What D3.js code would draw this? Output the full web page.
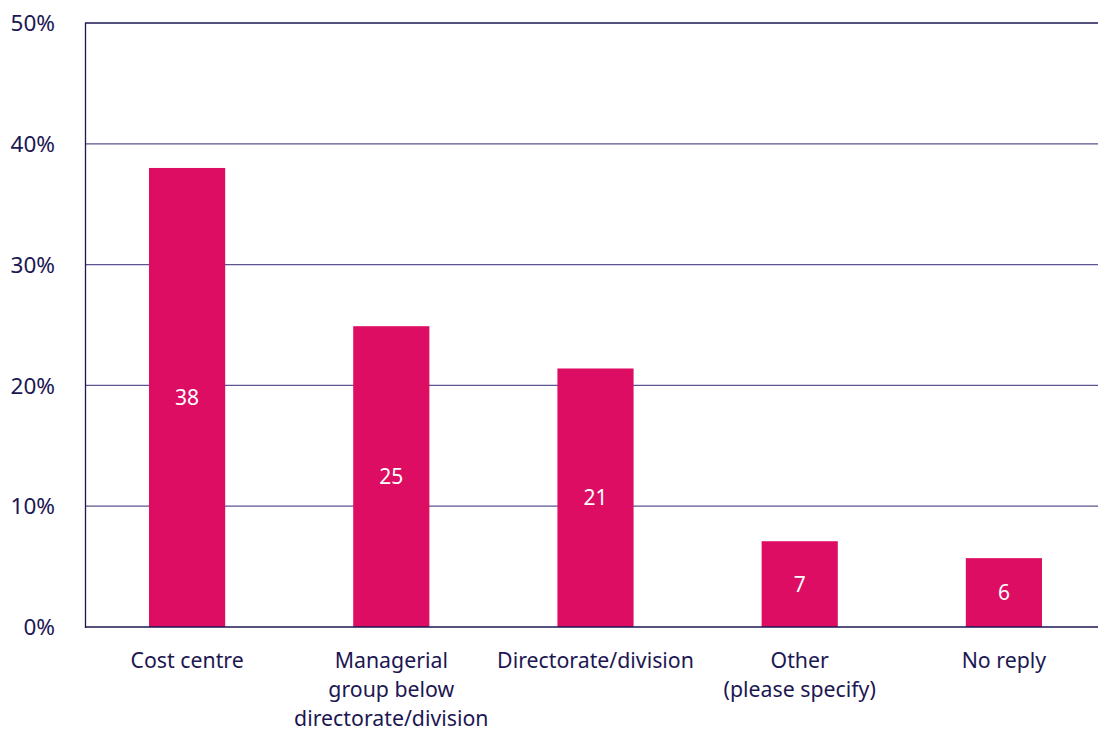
<!DOCTYPE html>
<html><head><meta charset="utf-8">
<script src="https://cdn.jsdelivr.net/npm/d3@7"></script>
<style>body{margin:0;background:#fff}svg{display:block}text{font-family:"Noto Sans",sans-serif}</style>
</head><body>
<svg id="c" width="1098" height="731"></svg>
<script>
const categories = [["Cost centre"],["Managerial","group below","directorate/division"],["Directorate/division"],["Other","(please specify)"],["No reply"]];
const values = [38, 24.9, 21.4, 7.1, 5.7];
const labels = ["38","25","21","7","6"];
const yTicks = [0,10,20,30,40,50];

const svg = d3.select("#c");
const navy = "#1c1752", grid = "#5a5492", barColor = "#dc0d62";
const x = d3.scaleBand().domain(d3.range(values.length)).range([85, 1106]).paddingInner(0.627).paddingOuter(0.3135);
const y = d3.scaleLinear().domain([0,50]).range([627, 23]);

// gridlines
svg.append("g").selectAll("line").data(yTicks.filter(t=>t>0)).join("line")
  .attr("x1",85).attr("x2",1098).attr("y1",d=>y(d)).attr("y2",d=>y(d))
  .attr("stroke",d=>d===50?navy:grid).attr("stroke-width",1.3);

// tick labels
svg.append("g").selectAll("text").data(yTicks).join("text")
  .attr("x",55).attr("y",d=>y(d)).attr("dy","0.36em").attr("text-anchor","end")
  .attr("fill",navy).attr("font-size",22.5).text(d=>d+"%");

// bars
svg.append("g").selectAll("rect").data(values).join("rect")
  .attr("x",(d,i)=>x(i)).attr("width",x.bandwidth())
  .attr("y",d=>y(d)).attr("height",d=>y(0)-y(d)).attr("fill",barColor);

// bar labels
svg.append("g").selectAll("text").data(values).join("text")
  .attr("x",(d,i)=>x(i)+x.bandwidth()/2).attr("y",d=>(y(d)+y(0))/2).attr("dy","0.36em")
  .attr("text-anchor","middle").attr("fill","#fff").attr("font-size",21).text((d,i)=>labels[i]);

// axes lines
svg.append("line").attr("x1",85.5).attr("x2",85.5).attr("y1",23).attr("y2",628).attr("stroke",navy).attr("stroke-width",1.3);
svg.append("line").attr("x1",85).attr("x2",1098).attr("y1",y(0)).attr("y2",y(0)).attr("stroke",navy).attr("stroke-width",1.3);

// category labels
const cg = svg.append("g").selectAll("text").data(categories).join("text")
  .attr("text-anchor","middle").attr("fill",navy).attr("font-size",21.3);
cg.each(function(lines,i){
  d3.select(this).selectAll("tspan").data(lines).join("tspan")
    .attr("x",x(i)+x.bandwidth()/2).attr("y",(l,j)=>668+j*29).text(l=>l);
});
</script>
</body></html>
